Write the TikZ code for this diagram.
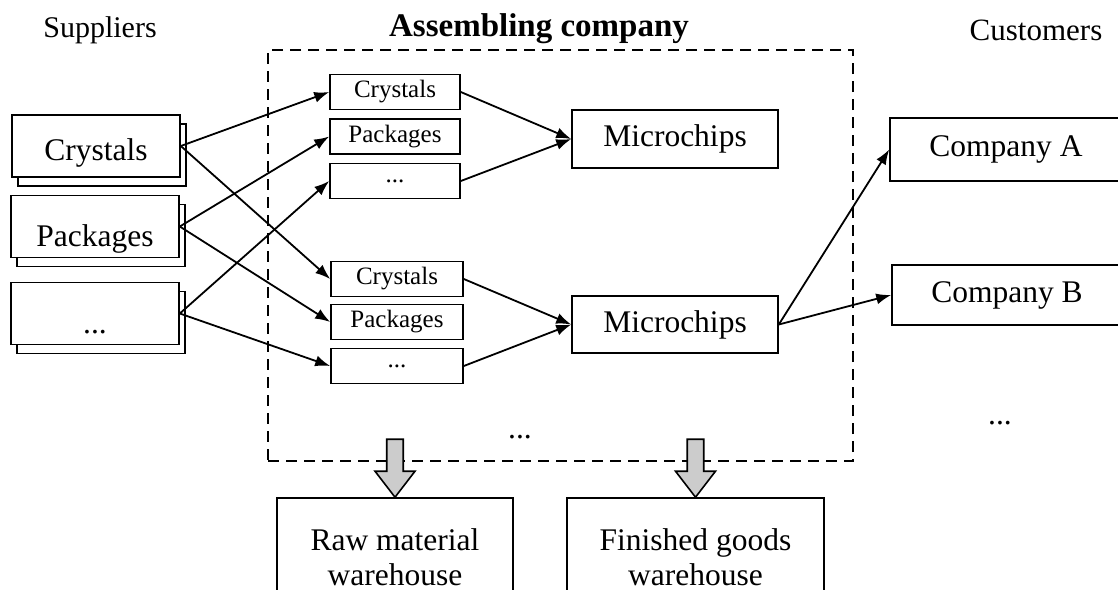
\documentclass[tikz,border=0pt]{standalone}
\usepackage{fontspec}
\setmainfont{Liberation Serif}
\usetikzlibrary{arrows.meta,shadows}

\begin{document}
\begin{tikzpicture}[x=0.5pt,y=-0.5pt,
    box/.style={draw=black,line width=0.8pt,fill=white,inner sep=0pt,font=\fontsize{15.75}{17.5}\selectfont},
    smallbox/.style={box,minimum width=65pt,minimum height=17.5pt,font=\fontsize{12.5}{14}\selectfont},
    supbox/.style={box,minimum width=84pt,minimum height=31pt,text depth=0pt,copy shadow={shadow xshift=3pt,shadow yshift=-4.5pt}},
    flow/.style={-{Latex[length=7.5pt,width=5.5pt]},line width=0.9pt},
    blockarrow/.style={draw=black,line width=0.8pt,fill=black!20}]

\path[use as bounding box,fill=white] (0,0) rectangle (1118,589);

%% Headers
\node (supl) at (100,30) {\fontsize{15}{18}\selectfont Suppliers};
\node (asm) at (539,29) {\fontsize{16.5}{18}\selectfont\bfseries Assembling company};
\node (cust) at (1036,30) {\fontsize{15.5}{18}\selectfont Customers};

% Assembling company frame
\node[draw=black,line width=1pt,dash pattern=on 5.5pt off 3.5pt,minimum width=292.5pt,minimum height=205.5pt] (frame) at (560.5,255.5) {};

% Suppliers
\node[supbox,text height=14pt] (s1) at (96,146) {Crystals};
\node[supbox,text height=20pt] (s2) at (95,226.5) {Packages};
\node[supbox,text height=19.5pt] (s3) at (95,313.5) {...};

% First group of materials
\node[smallbox] (c1) at (395,92) {Crystals};
\node[smallbox] (p1) at (395,136.5) {Packages};
\node[smallbox] (d1) at (395,181) {...};

% Second group of materials
\node[smallbox,minimum width=66pt] (c2) at (397,279) {Crystals};
\node[smallbox,minimum width=66pt] (p2) at (397,322) {Packages};
\node[smallbox,minimum width=66pt] (d2) at (397,366) {...};

% Products
\node[box,minimum width=103pt,minimum height=29pt] (m1) at (675,139) {Microchips};
\node[box,minimum width=103pt,minimum height=28.5pt] (m2) at (675,324.5) {Microchips};
\node (adots) at (520,437) {\fontsize{15.75}{17.5}\selectfont ...};

% Customers
\node[box,minimum width=116pt,minimum height=31.5pt] (ca) at (1006,149.5) {Company A};
\node[box,minimum width=115pt,minimum height=30pt] (cb) at (1007,295) {Company B};
\node (cdots) at (1000,423) {\fontsize{15.75}{17.5}\selectfont ...};

% Warehouses
\node[box,align=center,minimum width=118pt,minimum height=59pt] (raw) at (395,557) {Raw material\\warehouse};
\node[box,align=center,minimum width=128.5pt,minimum height=59pt] (fin) at (695.5,557) {Finished goods\\warehouse};

%% Flows
\foreach \s/\a/\b in {s1/c1/c2, s2/p1/p2, s3/d1/d2}{
    \draw[flow] (\s.east) -- (\a.west);
    \draw[flow] (\s.east) -- (\b.west);
}
\foreach \a/\b/\m in {c1/d1/m1, c2/d2/m2}{
    \draw[flow] (\a.east) -- (\m.west);
    \draw[flow] (\b.east) -- (\m.west);
}
\draw[flow] (m2.east) -- (ca.west);
\draw[flow] (m2.east) -- (cb.west);

% Storage arrows
\foreach \w in {raw,fin}
    \draw[blockarrow] (\w.north) -- ++(-20,-26) -- ++(11.75,0) -- ++(0,-32) -- ++(16.5,0) -- ++(0,32) -- ++(11.75,0) -- cycle;

\end{tikzpicture}
\end{document}
